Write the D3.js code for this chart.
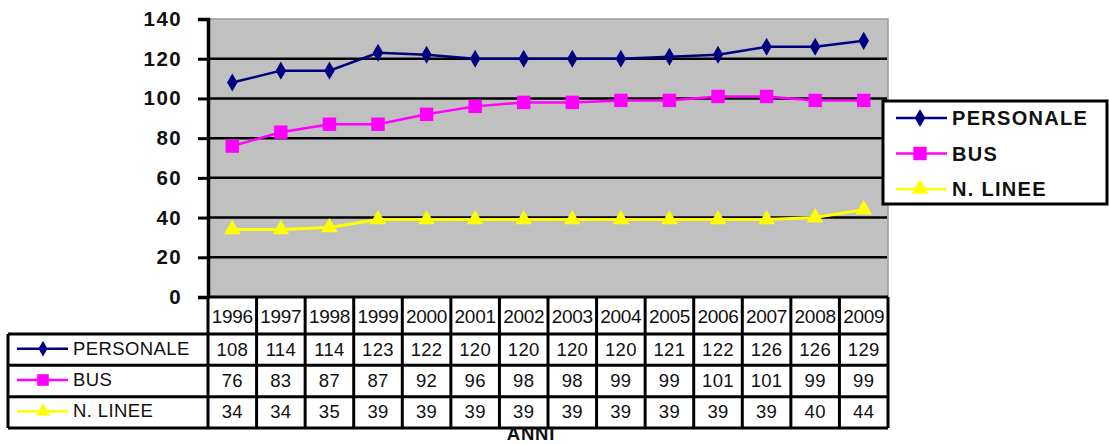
<!DOCTYPE html>
<html>
<head>
<meta charset="utf-8">
<script src="https://cdn.jsdelivr.net/npm/d3@7"></script>
<style>
  body { margin: 0; background: #fff; }
  svg { display: block; font-family: Arial, "Liberation Sans", sans-serif; }
</style>
</head>
<body>
<svg id="chart" width="1109" height="444"></svg>
<script>
// values
const years = ["1996","1997","1998","1999","2000","2001","2002","2003","2004","2005","2006","2007","2008","2009"];
const personale = [108,114,114,123,122,120,120,120,120,121,122,126,126,129];
const bus = [76,83,87,87,92,96,98,98,99,99,101,101,99,99];
const nLinee = [34,34,35,39,39,39,39,39,39,39,39,39,40,44];
const seriesNames = ["PERSONALE","BUS","N. LINEE"];
const yTicks = [0,20,40,60,80,100,120,140];
const xTitle = "ANNI";

const series = [
  { name: seriesNames[0], values: personale, color: "#000080", symbol: d3.symbolDiamond, size: 95 },
  { name: seriesNames[1], values: bus, color: "#ff00ff", symbol: d3.symbolSquare, size: 180 },
  { name: seriesNames[2], values: nLinee, color: "#ffff00", symbol: d3.symbolTriangle, size: 120 }
];

const svg = d3.select("#chart");

const plot = { left: 208, right: 888, top: 19, bottom: 297 };
const x = d3.scaleBand().domain(years).range([plot.left, plot.right]);
const y = d3.scaleLinear().domain([0, 140]).range([plot.bottom, plot.top]);

// plot background
svg.append("rect")
  .attr("x", plot.left).attr("y", plot.top)
  .attr("width", plot.right - plot.left).attr("height", plot.bottom - plot.top)
  .attr("fill", "#c0c0c0").attr("stroke", "#9a9a9a").attr("stroke-width", 1.5);

// gridlines
svg.append("g").selectAll("line")
  .data(yTicks.filter(t => t > 0 && t < 140))
  .join("line")
  .attr("x1", plot.left).attr("x2", plot.right - 1)
  .attr("y1", d => y(d)).attr("y2", d => y(d))
  .attr("stroke", "#000").attr("stroke-width", 2.5);

// y axis
const yAxis = d3.axisLeft(y).tickValues(yTicks).tickSize(10).tickPadding(16);
const gy = svg.append("g").attr("transform", `translate(${plot.left},0)`).call(yAxis);
gy.select(".domain").attr("stroke-width", 3.5);
gy.selectAll(".tick line").attr("stroke-width", 3);
gy.selectAll(".tick text")
  .attr("font-size", 20.5).attr("font-weight", "bold").attr("fill", "#111")
  .attr("letter-spacing", 1.4);

// lines and markers
const line = d3.line()
  .x((d, i) => x(years[i]) + x.bandwidth() / 2)
  .y(d => y(d));

series.forEach(s => {
  svg.append("path")
    .datum(s.values)
    .attr("d", line)
    .attr("fill", "none")
    .attr("stroke", s.color)
    .attr("stroke-width", s.name === "N. LINEE" ? 3 : 2.5);
  svg.append("g").selectAll("path")
    .data(s.values)
    .join("path")
    .attr("d", d3.symbol(s.symbol, s.size))
    .attr("transform", (d, i) => `translate(${x(years[i]) + x.bandwidth() / 2},${y(d)})`)
    .attr("fill", s.color);
});

// data table
const tableLeft = 8;
const yearRow = { top: 297, bottom: 334 };
const rows = d3.scaleBand().domain(seriesNames).range([334, 428]);

const table = svg.append("g");

table.append("rect")
  .attr("x", plot.left).attr("y", yearRow.top)
  .attr("width", plot.right - plot.left).attr("height", rows.range()[1] - yearRow.top)
  .attr("fill", "#fff");

// year labels
table.append("g").selectAll("text")
  .data(years)
  .join("text")
  .attr("x", d => x(d) + x.bandwidth() / 2)
  .attr("y", (yearRow.top + yearRow.bottom) / 2 + 7)
  .attr("text-anchor", "middle")
  .attr("font-size", 19)
  .attr("letter-spacing", -0.3)
  .attr("fill", "#111")
  .text(d => d);

// values + legend keys
series.forEach(s => {
  table.append("g").selectAll("text")
    .data(s.values)
    .join("text")
    .attr("x", (d, i) => x(years[i]) + x.bandwidth() / 2)
    .attr("y", rows(s.name) + rows.bandwidth() / 2 + 6)
    .attr("text-anchor", "middle")
    .attr("font-size", 18.5)
    .attr("letter-spacing", 0.3)
    .attr("fill", "#111")
    .text(d => d);

  const cy = rows(s.name) + rows.bandwidth() / 2 - 1;
  table.append("line")
    .attr("x1", tableLeft + 9).attr("x2", tableLeft + 60)
    .attr("y1", cy).attr("y2", cy)
    .attr("stroke", s.color).attr("stroke-width", 2.5);
  table.append("path")
    .attr("d", d3.symbol(s.symbol, s.size * 0.75))
    .attr("transform", `translate(${tableLeft + 35},${cy})`)
    .attr("fill", s.color);
  table.append("text")
    .attr("x", tableLeft + 65)
    .attr("y", cy + 6)
    .attr("font-size", 18.5)
    .attr("letter-spacing", 0.4)
    .attr("fill", "#111")
    .text(s.name);
});

// table grid
const gridW = 3;
const hLines = [rows.range()[0], ...seriesNames.slice(1).map(n => rows(n)), rows.range()[1]];
table.append("g").selectAll("line")
  .data(hLines)
  .join("line")
  .attr("x1", tableLeft).attr("x2", plot.right)
  .attr("y1", d => d).attr("y2", d => d)
  .attr("stroke", "#000").attr("stroke-width", gridW);
table.append("line")
  .attr("x1", plot.left).attr("x2", plot.right)
  .attr("y1", yearRow.top).attr("y2", yearRow.top)
  .attr("stroke", "#000").attr("stroke-width", gridW);
const vLines = years.map(d => x(d)).concat([plot.right]);
table.append("g").selectAll("line")
  .data(vLines)
  .join("line")
  .attr("x1", d => d).attr("x2", d => d)
  .attr("y1", yearRow.top).attr("y2", rows.range()[1])
  .attr("stroke", "#000").attr("stroke-width", gridW);
table.append("line")
  .attr("x1", tableLeft).attr("x2", tableLeft)
  .attr("y1", rows.range()[0]).attr("y2", rows.range()[1])
  .attr("stroke", "#000").attr("stroke-width", gridW);

// x title
svg.append("text")
  .attr("x", 531).attr("y", 439.5)
  .attr("text-anchor", "middle")
  .attr("font-size", 18.5).attr("font-weight", "bold")
  .attr("letter-spacing", 0.8)
  .attr("fill", "#111")
  .text(xTitle);

// legend
const legend = svg.append("g");
legend.append("rect")
  .attr("x", 883).attr("y", 101)
  .attr("width", 224).attr("height", 103)
  .attr("fill", "#fff").attr("stroke", "#000").attr("stroke-width", 3);
const ly = d3.scalePoint().domain(seriesNames).range([118, 189]);
series.forEach(s => {
  const cy = ly(s.name);
  legend.append("line")
    .attr("x1", 896).attr("x2", 947)
    .attr("y1", cy).attr("y2", cy)
    .attr("stroke", s.color).attr("stroke-width", 2.5);
  legend.append("path")
    .attr("d", d3.symbol(s.symbol, s.size))
    .attr("transform", `translate(920,${cy})`)
    .attr("fill", s.color);
  legend.append("text")
    .attr("x", 952).attr("y", cy + 7)
    .attr("font-size", 20).attr("font-weight", "bold")
    .attr("letter-spacing", 1.3)
    .attr("fill", "#111")
    .text(s.name);
});
</script>
</body>
</html>
